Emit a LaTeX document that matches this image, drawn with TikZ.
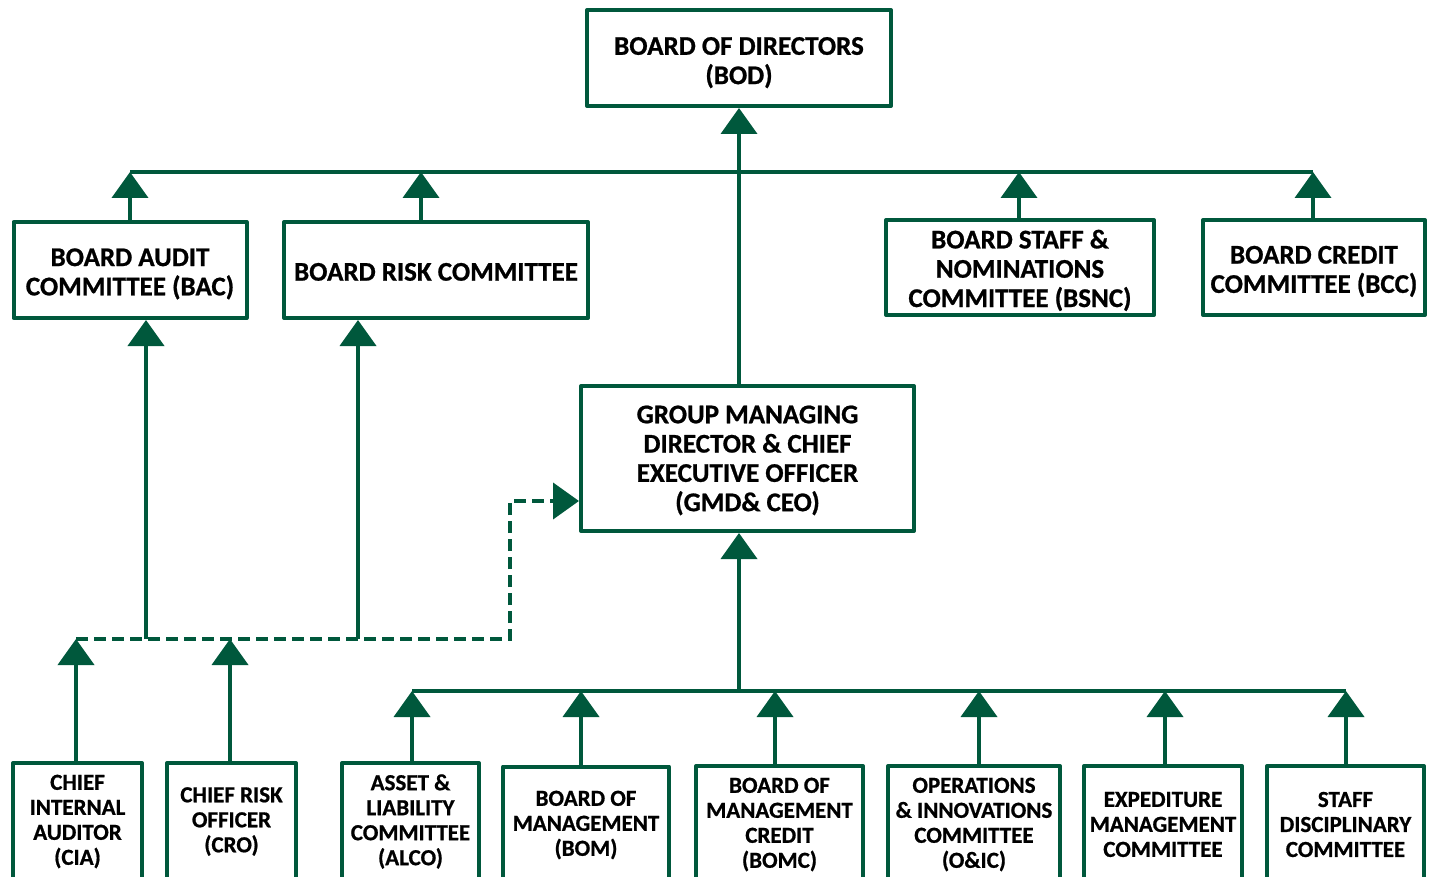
\documentclass[tikz,border=0pt]{standalone}
\usepackage{fontspec}
\setmainfont{Carlito}[BoldFeatures={FakeBold=0.8}]
\usetikzlibrary{arrows.meta}
\definecolor{gm}{RGB}{0,88,60}
% a taller first line lowers the text block a little inside its box
\newcommand\tallline[1]{\rule{0pt}{#1}}
\begin{document}
\begin{tikzpicture}[x=1pt,y=-1pt,
  box/.style={draw=gm, line width=4pt, fill=white, align=center, inner sep=0pt,
    line join=round, text=black},
  bigtxt/.style={font=\bfseries\fontsize{27}{29.3}\selectfont},
  smalltxt/.style={font=\bfseries\fontsize{23}{25}\selectfont},
  link/.style={draw=gm, line width=4pt},
  arr/.style={link, -{Triangle[width=36pt,length=26pt]}},
  dashlink/.style={draw=gm, line width=4pt, dash pattern=on 12pt off 6pt}
]
\useasboundingbox (0,0) rectangle (1432,877);
\clip (0,0) rectangle (1432,877);

% board level
\node[box,bigtxt,minimum width=304,minimum height=96] (bod) at (739,58) {\tallline{27pt}BOARD OF DIRECTORS\\(BOD)};
\node[box,bigtxt,minimum width=233,minimum height=96] (bac) at (130,270) {\tallline{25.5pt}BOARD AUDIT\\COMMITTEE (BAC)};
\node[box,bigtxt,minimum width=304,minimum height=96] (brc) at (436,270) {\tallline{21.5pt}BOARD RISK COMMITTEE};
\node[box,bigtxt,minimum width=268,minimum height=95] (bsnc) at (1020,267.5) {\tallline{24.5pt}BOARD STAFF \&\\NOMINATIONS\\COMMITTEE (BSNC)};
\node[box,bigtxt,minimum width=222,minimum height=95] (bcc) at (1314,267.5) {\tallline{25.5pt}BOARD CREDIT\\COMMITTEE (BCC)};

% executive
\node[box,bigtxt,minimum width=333,minimum height=145] (gmd) at (747.5,458.5) {\tallline{21.5pt}GROUP MANAGING\\DIRECTOR \& CHIEF\\EXECUTIVE OFFICER\\(GMD\& CEO)};

% management level (boxes run past the lower edge)
\node[box,smalltxt,minimum width=129,minimum height=117] (cia) at (77.5,821.5) {CHIEF\\INTERNAL\\AUDITOR\\(CIA)};
\node[box,smalltxt,minimum width=129,minimum height=117] (cro) at (231.5,821.5) {CHIEF RISK\\OFFICER\\(CRO)};
\node[box,smalltxt,minimum width=137,minimum height=117] (alco) at (410.5,821.5) {ASSET \&\\LIABILITY\\COMMITTEE\\(ALCO)};
\node[box,smalltxt,minimum width=166,minimum height=117] (bom) at (586,825) {BOARD OF\\MANAGEMENT\\(BOM)};
\node[box,smalltxt,minimum width=167,minimum height=117] (bomc) at (779.5,824.5) {BOARD OF\\MANAGEMENT\\CREDIT\\(BOMC)};
\node[box,smalltxt,minimum width=172,minimum height=117] (oic) at (974,824.5) {OPERATIONS\\\& INNOVATIONS\\COMMITTEE\\(O\&IC)};
\node[box,smalltxt,minimum width=158,minimum height=117] (exp) at (1163,824.5) {EXPEDITURE\\MANAGEMENT\\COMMITTEE};
\node[box,smalltxt,minimum width=157,minimum height=117] (sdc) at (1345.5,824.5) {STAFF\\DISCIPLINARY\\COMMITTEE};

% bus lines and junctions
\coordinate (tb1) at (130,172);
\coordinate (tb2) at (421,172);
\coordinate (tb3) at (1019,172);
\coordinate (tb4) at (1313,172);
\coordinate (spine) at (739,172);

\coordinate (bb1) at (412,691);
\coordinate (bb2) at (581,691);
\coordinate (bb3) at (775,691);
\coordinate (bb4) at (979,691);
\coordinate (bb5) at (1165,691);
\coordinate (bb6) at (1346,691);
\coordinate (bmid) at (739,691);

\coordinate (d1) at (76,639);
\coordinate (d2) at (230,639);
\coordinate (d3) at (146,639);
\coordinate (d4) at (358,639);
\coordinate (d5) at (510,639);
\coordinate (d6) at (510,501);

% board committees report to the board
\draw[link] (tb1) -- (tb4);
\draw[arr] (bac.north -| tb1) -- (tb1);
\draw[arr] (brc.north -| tb2) -- (tb2);
\draw[arr] (bsnc.north -| tb3) -- (tb3);
\draw[arr] (bcc.north -| tb4) -- (tb4);

% GMD & CEO reports to the board
\draw[arr] (gmd.north -| spine) -- (bod.south -| spine);

% management committees report to the GMD & CEO
\draw[link] (bb1) -- (bb6);
\draw[arr] (bmid) -- (gmd.south -| bmid);
\draw[arr] (alco.north -| bb1) -- (bb1);
\draw[arr] (bom.north -| bb2) -- (bb2);
\draw[arr] (bomc.north -| bb3) -- (bb3);
\draw[arr] (oic.north -| bb4) -- (bb4);
\draw[arr] (exp.north -| bb5) -- (bb5);
\draw[arr] (sdc.north -| bb6) -- (bb6);

% control functions: dashed administrative line to the GMD & CEO
\draw[dashlink] (d1) -- (d5) -- (d6) -- ([xshift=-20pt]gmd.west |- d6);
\draw[arr] ([xshift=-22pt]gmd.west |- d6) -- (gmd.west |- d6);
\draw[arr] (d3) -- (bac.south -| d3);
\draw[arr] (d4) -- (brc.south -| d4);
\draw[arr] (cia.north -| d1) -- (d1);
\draw[arr] (cro.north -| d2) -- (d2);
\end{tikzpicture}
\end{document}
